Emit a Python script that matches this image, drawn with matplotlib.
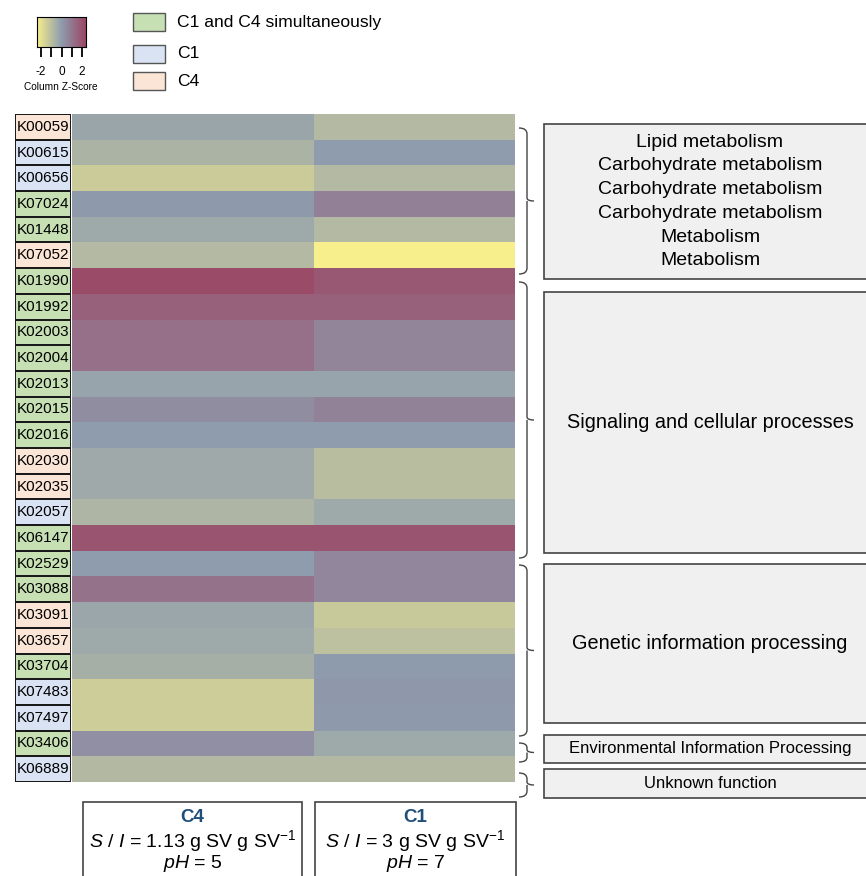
import numpy as np
import matplotlib
matplotlib.use("Agg")
import matplotlib.pyplot as plt
from matplotlib.colors import LinearSegmentedColormap, ListedColormap
from matplotlib.patches import Rectangle, PathPatch
from matplotlib.path import Path

plt.rcParams['font.family'] = ['Liberation Sans', 'DejaVu Sans']
plt.rcParams['mathtext.fontset'] = 'custom'
plt.rcParams['mathtext.rm'] = 'Liberation Sans'
plt.rcParams['mathtext.it'] = 'Liberation Sans:italic'

# KO identifiers (top to bottom) and the condition they belong to
kos = ["K00059", "K00615", "K00656", "K07024", "K01448", "K07052", "K01990",
       "K01992", "K02003", "K02004", "K02013", "K02015", "K02016", "K02030",
       "K02035", "K02057", "K06147", "K02529", "K03088", "K03091", "K03657",
       "K03704", "K07483", "K07497", "K03406", "K06889"]
groups = ["C4", "C1", "C1", "both", "both", "C4", "both", "both", "both", "both",
          "both", "both", "both", "C4", "C4", "C1", "both", "both", "both", "C4",
          "C4", "both", "C1", "C1", "both", "C1"]

# column z-scores
z_c4 = [-0.22, -0.56, -1.15, 0.05, -0.30, -0.70, 1.85, 1.35, 1.00, 1.00, -0.20, 0.35, 0.00,
        -0.32, -0.32, -0.60, 1.65, 0.00, 0.95, -0.25, -0.30, -0.46, -1.20, -1.20, 0.30, -0.68]
z_c1 = [-0.70, 0.00, -0.70, 0.65, -0.70, -2.00, 1.55, 1.35, 0.55, 0.55, -0.20, 0.60, 0.00,
        -0.80, -0.80, -0.30, 1.65, 0.50, 0.50, -1.10, -0.90, 0.02, 0.10, 0.05, -0.30, -0.68]

categories = [("Lipid metabolism\nCarbohydrate metabolism\nCarbohydrate metabolism\n"
               "Carbohydrate metabolism\nMetabolism\nMetabolism", 14),
              ("Signaling and cellular processes", 14.3),
              ("Genetic information processing", 14.3),
              ("Environmental Information Processing", 12),
              ("Unknown function", 12)]

W, H = 866, 876
fig = plt.figure(figsize=(W / 100, H / 100), dpi=100)


def fx(x):
    return x / W


def fy(y):
    return 1 - y / H


def px_axes(x0, y0, x1, y1):
    return fig.add_axes([fx(x0), fy(y1), fx(x1) - fx(x0), fy(y0) - fy(y1)])


cmap = LinearSegmentedColormap.from_list("zs", ["#f7ee8c", "#8e9cae", "#9b4563"])

# heatmap (the C4 column is drawn a bit wider than C1, as in the figure)
ax = px_axes(72, 114, 515, 782)
data = np.column_stack([z_c4, z_c1])
col_edges = [0, 0.546, 1]
row_edges = np.arange(len(kos) + 1)
ax.pcolormesh(col_edges, row_edges, data, cmap=cmap, vmin=-2, vmax=2)
ax.set_ylim(len(kos), 0)
ax.axis("off")

# row label cells
group_col = {"both": "#c6e0b4", "C1": "#dae3f3", "C4": "#fbe5d6"}
order = ["both", "C1", "C4"]
lax = px_axes(15, 114, 71, 782)
codes = np.array([[order.index(g)] for g in groups])
lax.pcolormesh(codes, cmap=ListedColormap([group_col[o] for o in order]), vmin=-0.5,
               vmax=2.5, edgecolors="#1a1a1a", linewidth=1.2)
for i, k in enumerate(kos):
    lax.text(0.5, i + 0.5, k, ha="center", va="center", fontsize=11)
lax.set_ylim(len(kos), 0)
lax.set_xlim(0, 1)
lax.axis("off")

# colour key
cax = px_axes(37, 17, 86, 47)
grad = np.linspace(-2.4, 2.4, 200)[None, :]
cax.imshow(grad, cmap=cmap, vmin=-2.4, vmax=2.4, aspect="auto", extent=[-2.4, 2.4, 0, 1])
cax.set_yticks([])
cax.set_xticks([-2, -1, 0, 1, 2])
cax.set_xticklabels(["-2", "", "0", "", "2"], fontsize=8.5)
cax.tick_params(axis="x", direction="out", length=7, width=1.3, pad=7)
for s in cax.spines.values():
    s.set_linewidth(0.8)
fig.text(fx(61), fy(87), "Column Z-Score", ha="center", va="center", fontsize=7.3)

# group legend
leg_items = [("C1 and C4 simultaneously", "both", 22), ("C1", "C1", 54), ("C4", "C4", 81)]
for lab, g, yc in leg_items:
    fig.add_artist(Rectangle((fx(133), fy(yc + 9)), fx(165) - fx(133), fy(yc - 9) - fy(yc + 9),
                             transform=fig.transFigure, facecolor=group_col[g],
                             edgecolor="#555555", linewidth=1))
    fig.text(fx(177), fy(yc), lab, ha="left", va="center", fontsize=12.6)


# braces and category boxes
def brace(y0, y1, x=527):
    ym = (y0 + y1) / 2
    h = min(6, (y1 - y0) / 4)
    verts = [(x - 8, y0), (x, y0), (x, y0 + h),
             (x, ym - 3), (x, ym), (x + 7, ym),
             (x, ym), (x, ym + 3),
             (x, y1 - h), (x, y1), (x - 8, y1)]
    codes_ = [Path.MOVETO, Path.CURVE3, Path.CURVE3,
              Path.LINETO, Path.CURVE3, Path.CURVE3,
              Path.MOVETO, Path.LINETO,
              Path.LINETO, Path.CURVE3, Path.CURVE3]
    verts = [(fx(a), fy(b)) for a, b in verts]
    fig.add_artist(PathPatch(Path(verts, codes_), transform=fig.transFigure,
                             facecolor="none", edgecolor="#444444", linewidth=1))


brace_spans = [(128, 274), (282, 558), (565, 736), (743, 762), (773, 797)]
box_spans = [(124, 279), (292, 553), (564, 723), (735, 763), (769, 798)]
for (b0, b1), (y0, y1), (txt, fs) in zip(brace_spans, box_spans, categories):
    brace(b0, b1)
    fig.add_artist(Rectangle((fx(544), fy(y1)), fx(880) - fx(544), fy(y0) - fy(y1),
                             transform=fig.transFigure, facecolor="#f0f0f0",
                             edgecolor="#444444", linewidth=1.2))
    fig.text(fx(710), fy((y0 + y1) / 2), txt, ha="center", va="center", fontsize=fs,
             linespacing=1.52)

# condition boxes under the heatmap
cond = [("C4", "1.13", "5", 83, 302), ("C1", "3", "7", 315, 516)]
for name, si, ph, x0, x1 in cond:
    fig.add_artist(Rectangle((fx(x0), fy(890)), fx(x1) - fx(x0), fy(802) - fy(890),
                             transform=fig.transFigure, facecolor="white",
                             edgecolor="#444444", linewidth=1.2))
    xc = (x0 + x1) / 2
    fig.text(fx(xc), fy(818), name, ha="center", va="center", fontsize=13.5,
             fontweight="bold", color="#1f4e79")
    fig.text(fx(xc), fy(841), r"$S\ /\ I$ = " + si + r" g SV g SV$^{-1}$", ha="center",
             va="center", fontsize=14)
    fig.text(fx(xc), fy(863), r"$pH$ = " + ph, ha="center", va="center", fontsize=14)

fig.savefig("out.png", dpi=100)
